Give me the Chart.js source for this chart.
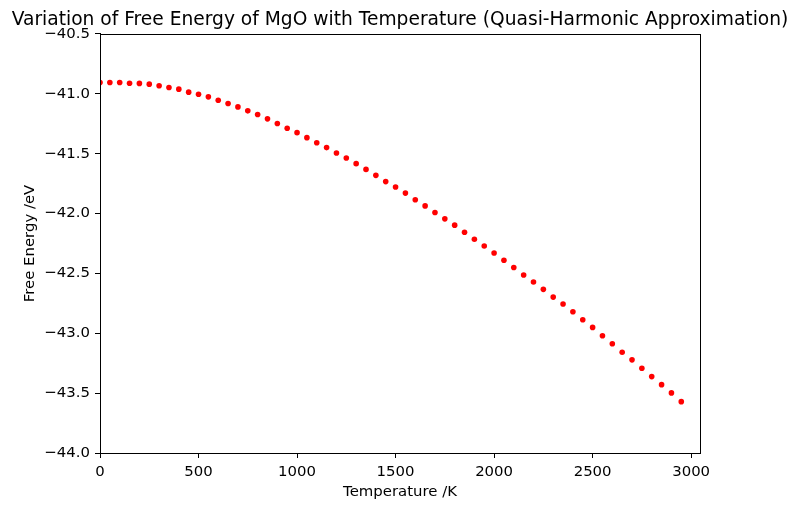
<!DOCTYPE html>
<html>
<head>
<meta charset="utf-8">
<script src="https://cdn.jsdelivr.net/npm/chart.js@4"></script>
<style>
  body { margin: 0; background: #fff; }
  canvas { display: block; }
</style>
</head>
<body>
<canvas id="chart" width="800" height="512"></canvas>
<script>
'use strict';

// temperature, K (every 50 K)
const temperature = [
    0, 50, 100, 150, 200, 250, 300, 350, 400, 450,
    500, 550, 600, 650, 700, 750, 800, 850, 900, 950,
    1000, 1050, 1100, 1150, 1200, 1250, 1300, 1350, 1400, 1450,
    1500, 1550, 1600, 1650, 1700, 1750, 1800, 1850, 1900, 1950,
    2000, 2050, 2100, 2150, 2200, 2250, 2300, 2350, 2400, 2450,
    2500, 2550, 2600, 2650, 2700, 2750, 2800, 2850, 2900, 2950
];

// free energy, eV
const freeEnergy = [
    -40.905, -40.905, -40.905, -40.911, -40.913, -40.919, -40.933, -40.947, -40.961, -40.986,
    -41.003, -41.025, -41.053, -41.081, -41.109, -41.142, -41.173, -41.209, -41.248, -41.288,
    -41.324, -41.366, -41.408, -41.449, -41.494, -41.536, -41.583, -41.631, -41.681, -41.733,
    -41.778, -41.829, -41.885, -41.936, -41.991, -42.044, -42.097, -42.156, -42.214, -42.271,
    -42.329, -42.390, -42.451, -42.513, -42.572, -42.633, -42.698, -42.756, -42.820, -42.887,
    -42.951, -43.021, -43.088, -43.158, -43.222, -43.292, -43.362, -43.429, -43.498, -43.571
];

const xTicks = [0, 500, 1000, 1500, 2000, 2500, 3000];
const yTicks = [-44.0, -43.5, -43.0, -42.5, -42.0, -41.5, -41.0, -40.5];

const FONT = 'DejaVu Sans';

// рамка вокруг области графика (как в matplotlib)
const frame = {
    id: 'frame',
    afterDraw(chart) {
        const a = chart.chartArea;
        const c = chart.ctx;
        c.save();
        c.strokeStyle = '#000';
        c.lineWidth = 1;
        c.strokeRect(Math.round(a.left) + 0.5, Math.round(a.top) + 0.5,
            Math.round(a.right - a.left), Math.round(a.bottom - a.top));
        c.restore();
    }
};

function minus(v) {
    return String(v).replace('-', '\u2212');
}

const ctx = document.getElementById('chart').getContext('2d');

new Chart(ctx, {
    type: 'scatter',
    data: {
        datasets: [{
            data: temperature.map((t, i) => ({ x: t, y: freeEnergy[i] })),
            backgroundColor: '#ff0000',
            borderWidth: 0,
            pointRadius: 2.8
        }]
    },
    options: {
        responsive: false,
        animation: false,
        layout: { padding: 0 },
        plugins: {
            legend: { display: false },
            tooltip: { enabled: false },
            title: {
                display: true,
                text: 'Variation of Free Energy of MgO with Temperature (Quasi-Harmonic Approximation)',
                color: '#000',
                font: { family: FONT, size: 18.65, weight: 'normal' },
                padding: { top: 8.5, bottom: 3.1 }
            }
        },
        scales: {
            x: {
                type: 'linear',
                min: 0,
                max: 3045,
                afterBuildTicks: s => { s.ticks = xTicks.map(v => ({ value: v })); },
                afterFit: s => { s.height = 59; },
                grid: { display: true, drawOnChartArea: false, drawTicks: true, tickLength: 5, color: '#000' },
                border: { display: true, color: '#000', width: 1 },
                ticks: {
                    color: '#000',
                    padding: 5,
                    maxRotation: 0,
                    font: { family: FONT, size: 14.9 },
                    callback: v => minus(v)
                },
                title: {
                    display: true,
                    text: 'Temperature /K',
                    color: '#000',
                    font: { family: FONT, size: 14.9 },
                    padding: { top: 0, bottom: 10.5 }
                }
            },
            y: {
                type: 'linear',
                min: -44.0,
                max: -40.5,
                afterBuildTicks: s => { s.ticks = yTicks.map(v => ({ value: v })); },
                afterFit: s => { s.width = 100; },
                grid: { display: true, drawOnChartArea: false, drawTicks: true, tickLength: 5, color: '#000' },
                border: { display: true, color: '#000', width: 1 },
                ticks: {
                    color: '#000',
                    padding: 5,
                    font: { family: FONT, size: 14.9 },
                    callback: v => minus(v.toFixed(1))
                },
                title: {
                    display: true,
                    text: 'Free Energy /eV',
                    color: '#000',
                    font: { family: FONT, size: 14.9 },
                    padding: { top: 21, bottom: 0 }
                }
            },
            // пустая ось справа - только место под поле
            yRight: {
                type: 'linear',
                position: 'right',
                min: -44.0,
                max: -40.5,
                afterFit: s => { s.width = 100; },
                grid: { display: false },
                border: { display: false },
                ticks: { display: false }
            }
        }
    },
    plugins: [frame]
});
</script>
</body>
</html>
